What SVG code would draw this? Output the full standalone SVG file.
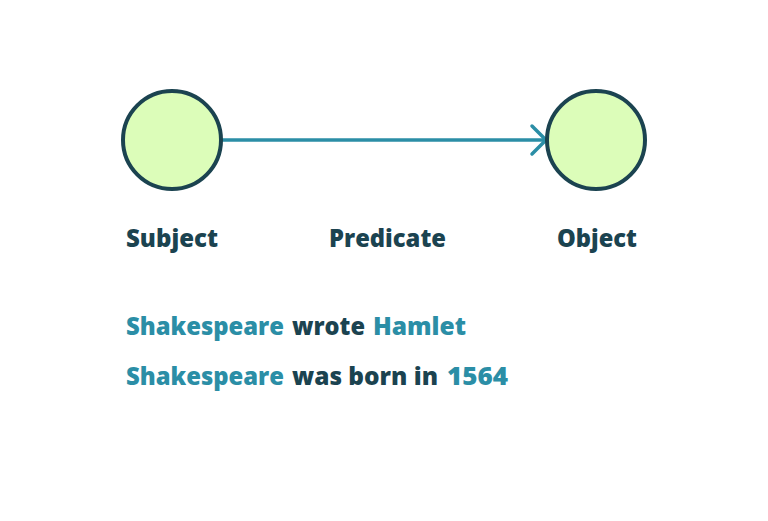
<svg xmlns="http://www.w3.org/2000/svg" width="768" height="521" viewBox="0 0 768 521">
<style>
.node{fill:#dcfdb9;stroke:#1b4350;stroke-width:4}
.lbl{font-family:"Open Sans","Noto Sans",sans-serif;font-weight:800;font-size:24px;fill:#1b4350}
.hl{fill:#2b8ea6}
.edge{stroke:#2b8ea6;stroke-width:3.5;fill:none;stroke-linecap:round;stroke-linejoin:round}
</style>
<rect width="768" height="521" fill="#ffffff"/>
<g id="connectors">
<path class="edge" d="M221 140 H545"/>
<path class="edge" d="M532 126 L546 140 L532 154"/>
</g>
<g id="subject"><circle class="node" cx="172" cy="140" r="49"/></g>
<g id="object"><circle class="node" cx="596" cy="140" r="49"/></g>
<text class="lbl" x="126" y="247" textLength="92" lengthAdjust="spacingAndGlyphs">Subject</text>
<text class="lbl" x="329" y="247" textLength="117" lengthAdjust="spacingAndGlyphs">Predicate</text>
<text class="lbl" x="557" y="247" textLength="80" lengthAdjust="spacingAndGlyphs">Object</text>
<text class="lbl hl" x="126" y="335" textLength="158" lengthAdjust="spacingAndGlyphs">Shakespeare</text>
<text class="lbl" x="292" y="335" textLength="73" lengthAdjust="spacingAndGlyphs">wrote</text>
<text class="lbl hl" x="373" y="335" textLength="93" lengthAdjust="spacingAndGlyphs">Hamlet</text>
<text class="lbl hl" x="126" y="385" textLength="158" lengthAdjust="spacingAndGlyphs">Shakespeare</text>
<text class="lbl" x="292" y="385" textLength="146" lengthAdjust="spacingAndGlyphs">was born in</text>
<text class="lbl hl" x="447" y="385" textLength="61" lengthAdjust="spacingAndGlyphs">1564</text>
</svg>
